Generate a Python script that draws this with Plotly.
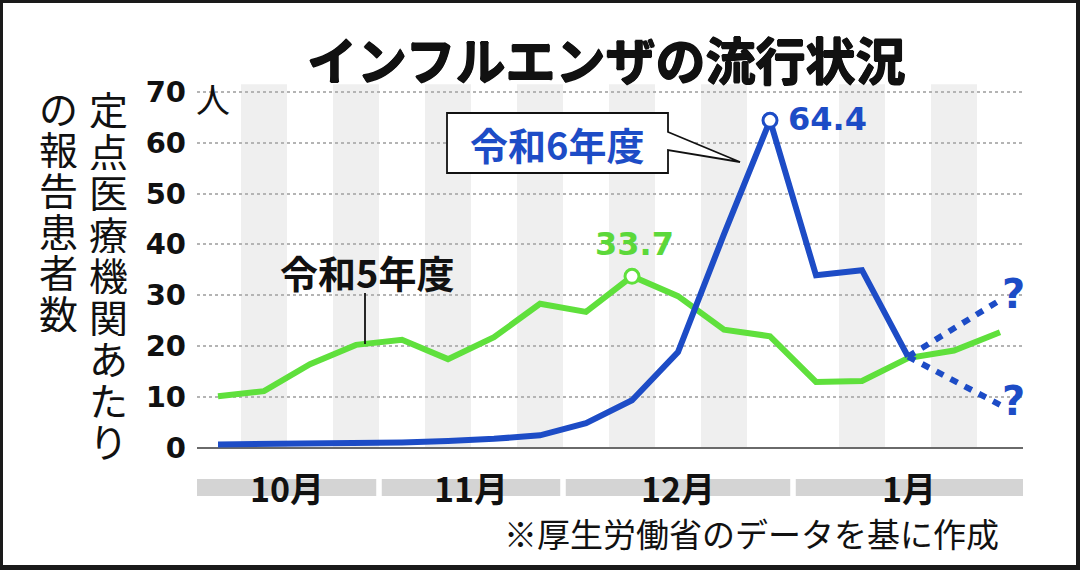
import plotly.graph_objects as go

# ---------------- data ----------------
month_labels = ["10月", "11月", "12月", "1月"]
weeks_per_month = [4, 4, 5, 5]
r5_values = [10.1, 11.1, 16.4, 20.2, 21.2, 17.4, 21.7, 28.3, 26.7, 33.7,
             29.8, 23.2, 21.9, 12.9, 13.1, 17.6, 19.1, 22.7]
r6_values = [0.6, 0.7, 0.7, 0.8, 1.0, 1.3, 1.7, 2.4, 4.8, 9.3,
             18.8, 42.0, 64.4, 33.9, 34.9, 17.9]
proj_up_end = 29.0
proj_down_end = 8.4
ytick_vals = [0, 10, 20, 30, 40, 50, 60, 70]
ytick_text = ["0", "10", "20", "30", "40", "50", "60", "70"]
r5_name = "令和5年度"
r6_name = "令和6年度"
ylabel_col1 = "定点医療機関あたり"
ylabel_col2 = "の報告患者数"
unit_label = "人"
title_text = "インフルエンザの流行状況"
note_text = "※厚生労働省のデータを基に作成"

# ---------------- geometry ----------------
W, H = 1080, 570
FONT = "Noto Sans CJK JP"
NUMFONT = "DejaVu Sans"
BLUE = "#1d4cc6"
GREEN = "#5fe03c"
GREEN_TXT = "#5cd83a"
HEAVY = "0.7px 0 0 #111, -0.7px 0 0 #111, 0 0.6px 0 #111, 0 -0.6px 0 #111"

X0PX, X1PX = 197, 1023
I0PX, STEP = 218, 46.0
ZEROPX, PXU = 447.5, 5.08
YMIN, YMAX = -2, 72
xr = [(X0PX - I0PX) / STEP, (X1PX - I0PX) / STEP]
top_px = ZEROPX - YMAX * PXU
bot_px = ZEROPX - YMIN * PXU


def px(x, y):
    return x / W, 1 - y / H


def ann(xp, yp, text, font, xanchor="center", yanchor="middle", **kw):
    x, y = px(xp, yp)
    d = dict(x=x, y=y, xref="paper", yref="paper", text=text, showarrow=False,
             xanchor=xanchor, yanchor=yanchor, font=font)
    d.update(kw)
    return d


n_weeks = sum(weeks_per_month)
weeks = list(range(n_weeks))
r6_x = weeks[:len(r6_values)]

fig = go.Figure()

# green line
fig.add_trace(go.Scatter(x=weeks, y=r5_values, mode="lines",
                         line=dict(color=GREEN, width=6), hoverinfo="skip"))
# blue projections
last_i = r6_x[-1]
fig.add_trace(go.Scatter(x=[last_i, weeks[-1]], y=[r6_values[-1], proj_up_end], mode="lines",
                         line=dict(color=BLUE, width=6, dash="8px,8px"), hoverinfo="skip"))
fig.add_trace(go.Scatter(x=[last_i, weeks[-1]], y=[r6_values[-1], proj_down_end], mode="lines",
                         line=dict(color=BLUE, width=6, dash="8px,8px"), hoverinfo="skip"))
# blue line
fig.add_trace(go.Scatter(x=r6_x, y=r6_values, mode="lines",
                         line=dict(color=BLUE, width=6), hoverinfo="skip"))

# peak markers
p5 = max(range(len(r5_values)), key=lambda k: r5_values[k])
p6 = max(range(len(r6_values)), key=lambda k: r6_values[k])
fig.add_trace(go.Scatter(x=[weeks[p5]], y=[r5_values[p5]], mode="markers",
                         marker=dict(size=14, color="white", line=dict(color=GREEN, width=3)),
                         hoverinfo="skip"))
fig.add_trace(go.Scatter(x=[r6_x[p6]], y=[r6_values[p6]], mode="markers",
                         marker=dict(size=14, color="white", line=dict(color=BLUE, width=3)),
                         hoverinfo="skip"))

shapes = []
annotations = []

# vertical stripes: 2nd and 4th week of each month
start = 0
month_ranges = []
for nw in weeks_per_month:
    month_ranges.append((start, start + nw - 1))
    for k in (1, 3):
        if k < nw:
            i = start + k
            shapes.append(dict(type="rect", xref="x", yref="y", x0=i - 0.5, x1=i + 0.5,
                               y0=0, y1=71.5, fillcolor="#efefef", line=dict(width=0),
                               layer="below"))
    start += nw

# month band and labels
by0 = 1 - 496 / H
by1 = 1 - 479 / H
for (a, b), lab in zip(month_ranges, month_labels):
    x0 = max(a - 0.5, xr[0]) + (0.06 if a > 0 else 0)
    x1 = min(b + 0.5, xr[1]) - (0.06 if b < n_weeks - 1 else 0)
    shapes.append(dict(type="rect", xref="x", yref="paper", x0=x0, x1=x1, y0=by0, y1=by1,
                       fillcolor="#d4d4d4", line=dict(width=0)))
    annotations.append(dict(x=(x0 + x1) / 2, y=1 - 487 / H, xref="x", yref="paper",
                            text=lab, showarrow=False, xanchor="center", yanchor="middle",
                            font=dict(family=FONT, size=34, color="#111", weight="bold")))

# callout box for r6
pts = [(447, 113), (668, 113), (668, 132), (740, 162), (668, 150), (668, 173), (447, 173)]
path = "M " + " L ".join(f"{px(a, b)[0]:.5f},{px(a, b)[1]:.5f}" for a, b in pts) + " Z"
shapes.append(dict(type="path", xref="paper", yref="paper", path=path,
                   fillcolor="white", line=dict(color="#111", width=1.8), layer="above"))
annotations.append(ann(557, 143, r6_name, dict(family=FONT, size=38, color=BLUE, weight="bold")))

# r5 label and leader
annotations.append(ann(367, 272, r5_name, dict(family=FONT, size=38, color="#111", weight="bold")))
shapes.append(dict(type="line", xref="paper", yref="paper",
                   x0=px(365, 293)[0], x1=px(365, 344)[0], y0=px(365, 293)[1], y1=px(365, 344)[1],
                   line=dict(color="#111", width=1.8)))

# peak value labels
annotations.append(dict(x=weeks[p5], y=r5_values[p5], xref="x", yref="y",
                        text=f"{r5_values[p5]:.1f}", showarrow=False, yshift=32, xshift=2,
                        xanchor="center", yanchor="middle",
                        font=dict(family=NUMFONT, size=32, color=GREEN_TXT, weight="bold")))
annotations.append(dict(x=r6_x[p6], y=r6_values[p6], xref="x", yref="y",
                        text=f"{r6_values[p6]:.1f}", showarrow=False, xanchor="left", yanchor="middle",
                        xshift=16, yshift=1,
                        font=dict(family=NUMFONT, size=32, color=BLUE, weight="bold")))

# question marks
for v in (proj_up_end, proj_down_end):
    annotations.append(dict(x=weeks[-1], y=v, xref="x", yref="y", text="?", showarrow=False,
                            xanchor="center", yanchor="middle",
                            xshift=13, yshift=(6 if v > r6_values[-1] else 4),
                            font=dict(family=NUMFONT, size=40, color=BLUE, weight="bold")))

# y label columns (vertical, one character per row)
for k, ch in enumerate(ylabel_col1):
    annotations.append(ann(108, 108 + 41.5 * k, ch, dict(family=FONT, size=39, color="#111"),
                           height=40, valign="middle"))
for k, ch in enumerate(ylabel_col2):
    annotations.append(ann(58, 107 + 41 * k, ch, dict(family=FONT, size=39, color="#111"),
                           height=40, valign="middle"))

# unit
annotations.append(ann(213, 99, unit_label, dict(family=FONT, size=34, color="#111")))

# title
annotations.append(ann(606, 58, title_text,
                       dict(family=FONT, size=50, color="#111", weight="bold", shadow=HEAVY)))
# footnote
annotations.append(ann(502, 533, note_text, dict(family=FONT, size=33, color="#111"), xanchor="left"))

# frame edges
for (x0, y0, x1, y1) in [(0, 0, W, 3), (0, 0, 3, H), (W - 4, 0, W, H), (0, H - 5, W, H)]:
    shapes.append(dict(type="rect", xref="paper", yref="paper",
                       x0=x0 / W, x1=x1 / W, y0=1 - y1 / H, y1=1 - y0 / H,
                       fillcolor="#1a1a1a", line=dict(width=0)))

fig.update_layout(
    width=W, height=H, autosize=False,
    margin=dict(l=0, r=0, t=0, b=0),
    paper_bgcolor="white", plot_bgcolor="white",
    showlegend=False,
    shapes=shapes, annotations=annotations,
    xaxis=dict(range=xr, domain=[X0PX / W, X1PX / W], showgrid=False, zeroline=False,
               showticklabels=False, ticks="", showline=False, automargin=False),
    yaxis=dict(range=[YMIN, YMAX], domain=[1 - bot_px / H, 1 - top_px / H],
               tickvals=ytick_vals, ticktext=ytick_text, ticks="",
               ticklabelstandoff=10, automargin=False,
               tickfont=dict(family=NUMFONT, size=29, color="#111", weight="bold"),
               showgrid=True, gridcolor="#b4b4b4", gridwidth=1.5, griddash="dot",
               zeroline=True, zerolinecolor="#6a6a6a", zerolinewidth=2, showline=False),
)

fig.write_html("out.html", config={"displayModeBar": False})
